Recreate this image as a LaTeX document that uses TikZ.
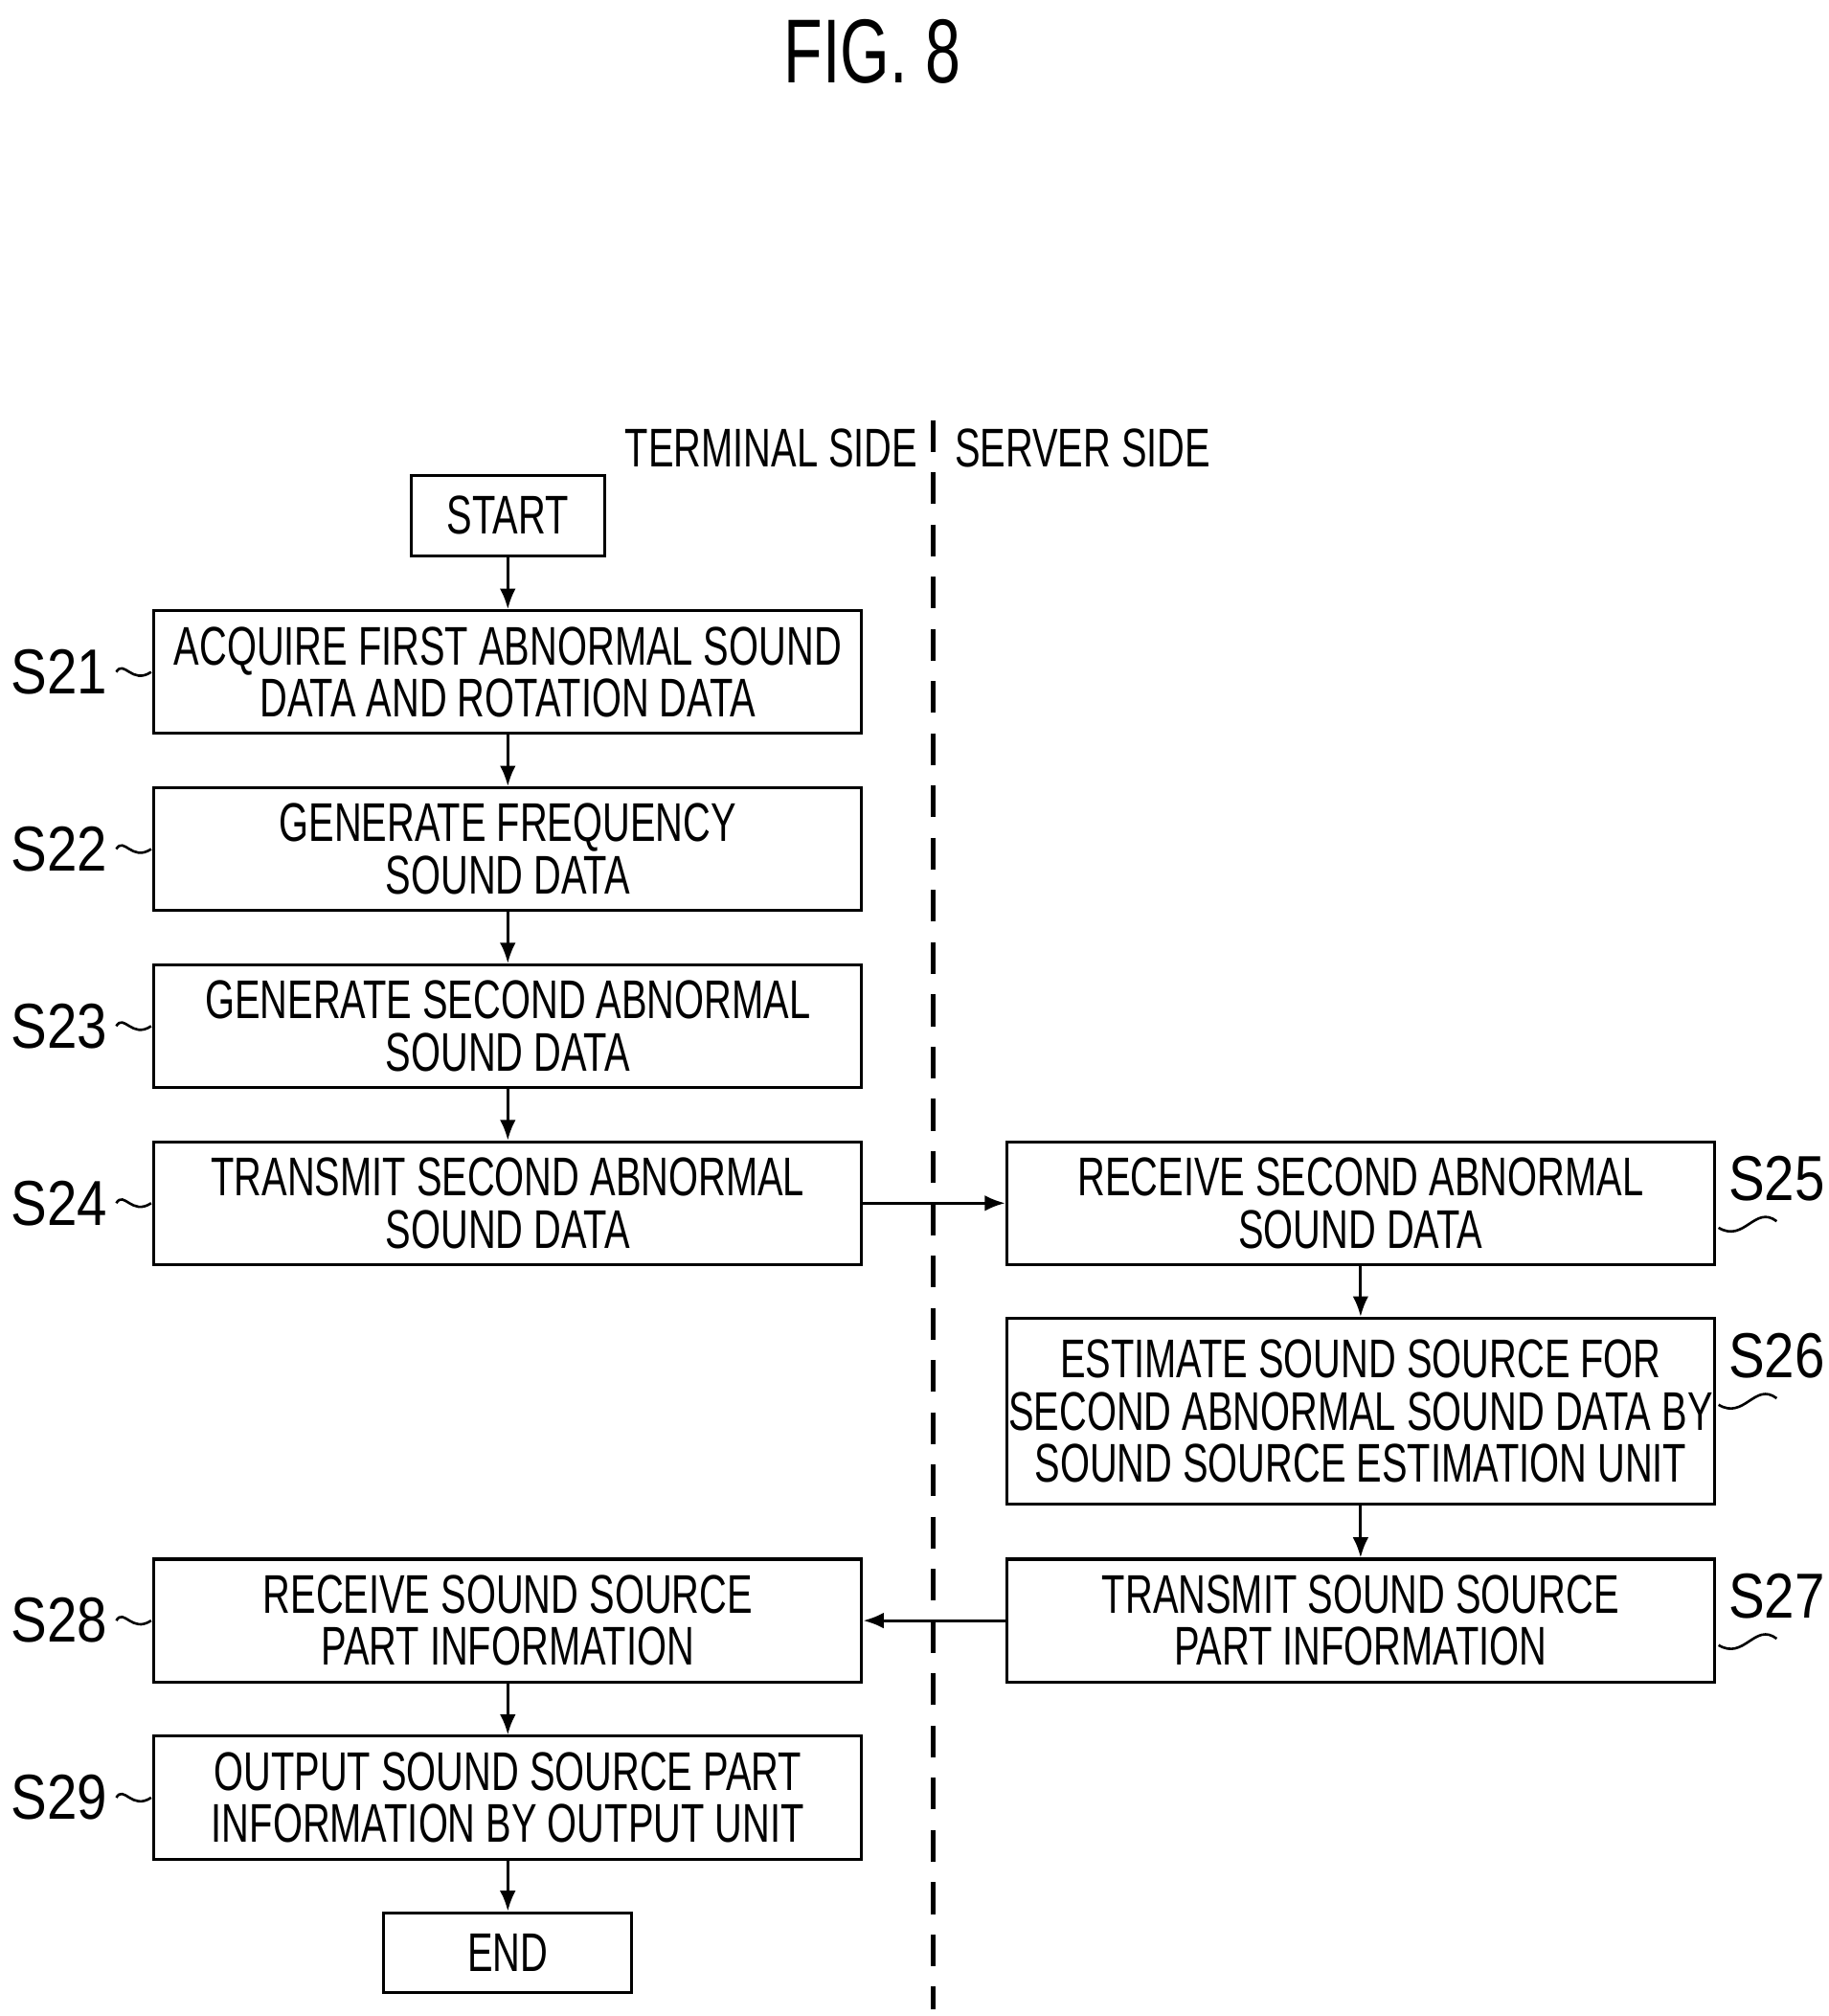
\documentclass[tikz,border=0pt]{standalone}
\usepackage{fontspec}
\setmainfont{Liberation Sans}[FakeStretch=0.7]
\newfontfamily\widesans{Liberation Sans}[FakeStretch=0.85]
\usetikzlibrary{positioning,arrows.meta}

\begin{document}
\begin{tikzpicture}[x=0.02cm,y=-0.02cm,
        stepbox/.style={draw,line width=1.3pt,minimum width=10.96cm,minimum height=1.9cm,align=center,inner sep=0pt,font=\fontsize{24}{23}\selectfont},
        term/.style={draw,line width=1.3pt,minimum height=1.24cm,inner sep=0pt,font=\fontsize{24}{23}\selectfont},
        side/.style={font=\fontsize{24}{24}\selectfont},
        lbl/.style={font=\widesans\fontsize{28}{28}\selectfont},
        flow/.style={-{Latex[length=9pt,width=7pt]},line width=1.2pt}
    ]
    \useasboundingbox (0,0) rectangle (1415,1560);
    \node[font=\fontsize{40}{40}\selectfont] (fig) at (675,40) {FIG. 8};
    \node[side] (terminal) at (597,347) {TERMINAL SIDE};
    \node[side] (server) at (838,347) {SERVER SIDE};
    \coordinate (top) at (722,325);
    \coordinate (bottom) at (722,1555);
    \draw[line width=2pt,dash pattern=on 14pt off 9pt] (top) -- (bottom);

    % terminal side
    \node[term,minimum width=3cm] (start) at (393,399) {START};
    \node[stepbox] (s21) at (393,520) {ACQUIRE FIRST ABNORMAL SOUND\\DATA AND ROTATION DATA};
    \node[stepbox] (s22) at (393,657) {GENERATE FREQUENCY\\SOUND DATA};
    \node[stepbox] (s23) at (393,794) {GENERATE SECOND ABNORMAL\\SOUND DATA};
    \node[stepbox] (s24) at (393,931) {TRANSMIT SECOND ABNORMAL\\SOUND DATA};
    \node[stepbox] (s28) at (393,1254) {RECEIVE SOUND SOURCE\\PART INFORMATION};
    \node[stepbox] (s29) at (393,1391) {OUTPUT SOUND SOURCE PART\\INFORMATION BY OUTPUT UNIT};
    \node[term,minimum width=3.84cm] (end) at (393,1511) {END};
    % server side
    \node[stepbox] (s25) at (1053,931) {RECEIVE SECOND ABNORMAL\\SOUND DATA};
    \node[stepbox,minimum height=2.88cm] (s26) at (1053,1092) {ESTIMATE SOUND SOURCE FOR\\SECOND ABNORMAL SOUND DATA BY\\SOUND SOURCE ESTIMATION UNIT};
    \node[stepbox] (s27) at (1053,1254) {TRANSMIT SOUND SOURCE\\PART INFORMATION};

    \draw[flow] (start) -- (s21);
    \draw[flow] (s21) -- (s22);
    \draw[flow] (s22) -- (s23);
    \draw[flow] (s23) -- (s24);
    \draw[flow] (s24) -- (s25);
    \draw[flow] (s25) -- (s26);
    \draw[flow] (s26) -- (s27);
    \draw[flow] (s27) -- (s28);
    \draw[flow] (s28) -- (s29);
    \draw[flow] (s29) -- (end);

    % step labels
    \foreach \s/\y in {21/520,22/657,23/794,24/931,28/1254,29/1391}
    {
        \node[lbl] (l\s) at (46,\y) {S\s};
        \draw[line width=1.1pt] (90,\y) .. controls (96,\y-10) and (102,\y+10) .. (117,\y);
    }
    \foreach \s/\y in {25/912,26/1049,27/1235}
    {
        \node[lbl] (l\s) at (1375,\y) {S\s};
        \draw[line width=1.1pt] (1330,\y+38) .. controls (1350,\y+50) and (1358,\y+20) .. (1375,\y+33);
    }
\end{tikzpicture}
\end{document}
